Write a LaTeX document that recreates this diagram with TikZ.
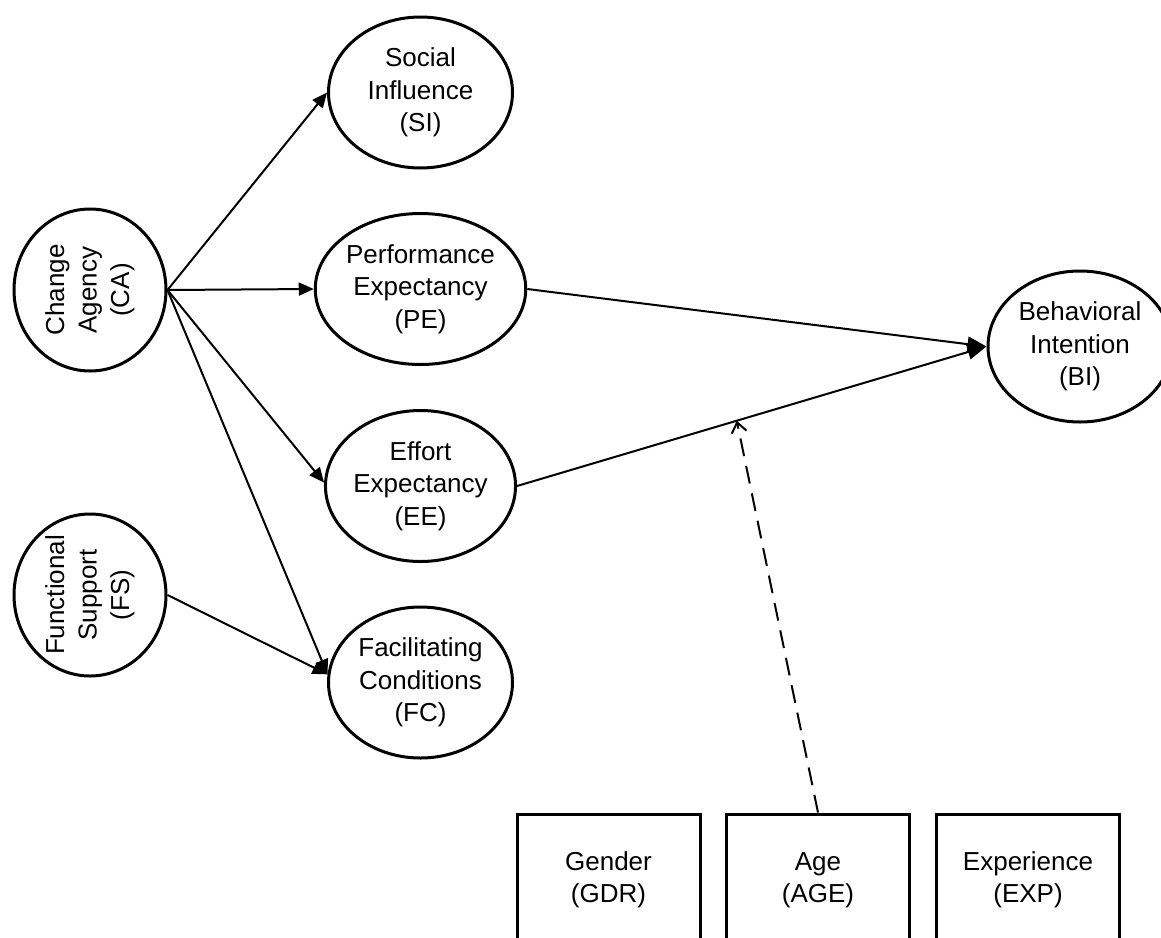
\documentclass[tikz,border=0pt]{standalone}
\usepackage{fontspec}
\setmainfont{Liberation Sans}
\usetikzlibrary{arrows.meta,shapes.geometric}
\begin{document}
\begin{tikzpicture}[x=1pt,y=-1pt,
  every node/.style={font=\fontsize{26}{32.5}\selectfont},
  oval/.style={ellipse, draw, line width=3pt, minimum width=184pt, minimum height=151pt, inner sep=0pt, align=center},
  roundv/.style={ellipse, draw, line width=3pt, minimum width=152pt, minimum height=162pt, inner sep=0pt},
  vlabel/.style={rotate=90, align=center, inner sep=0pt},
  boxnode/.style={rectangle, draw, line width=3pt, minimum width=183pt, minimum height=132pt, align=center},
  link/.style={line width=2pt, -{Triangle[length=15pt,width=13pt]}},
  biglink/.style={line width=2pt, -{Triangle[length=19pt,width=15pt]}},
  moder/.style={line width=2pt, dash pattern=on 18pt off 10pt, -{Straight Barb[length=10pt,width=15pt]}}]
\useasboundingbox (0,0) rectangle (1161,937);
\fill[white] (0,0) rectangle (1161,937);
\clip (0,0) rectangle (1161,937);
\node[oval] (SI) at (420.5,92.5) {Social\\Influence\\(SI)};
\node[oval] (PE) at (420.5,289) {Performance\\Expectancy\\(PE)};
\node[oval] (EE) at (420.5,486) {Effort\\Expectancy\\(EE)};
\node[oval] (FC) at (420.5,682.5) {Facilitating\\Conditions\\(FC)};
\node[oval] (BI) at (1080,346.5) {Behavioral\\Intention\\(BI)};
\node[roundv] (CA) at (90,290) {};
\node[vlabel] (CAt) at (CA) {Change\\Agency\\(CA)};
\node[roundv] (FS) at (90,595) {};
\node[vlabel] (FSt) at (FS) {Functional\\Support\\(FS)};
\node[boxnode] (GDR) at (608.5,880) {Gender\\(GDR)};
\node[boxnode] (AGE) at (818,880) {Age\\(AGE)};
\node[boxnode] (EXP) at (1028,880) {Experience\\(EXP)};
\draw[link] (CA.east) -- (SI.west);
\draw[link] (CA.east) -- (PE.west);
\draw[link] (CA.east) -- (EE.178);
\draw[link] (CA.east) -- (FC.175);
\draw[link] (FS.east) -- (FC.175);
\draw[biglink] (PE.east) -- (BI.west);
\draw[biglink] (EE.east) -- (BI.west);
\path (EE.east) -- (BI.west) coordinate[pos=0.468] (m);
\draw[moder] (AGE.north) -- (m);
\end{tikzpicture}
\end{document}
